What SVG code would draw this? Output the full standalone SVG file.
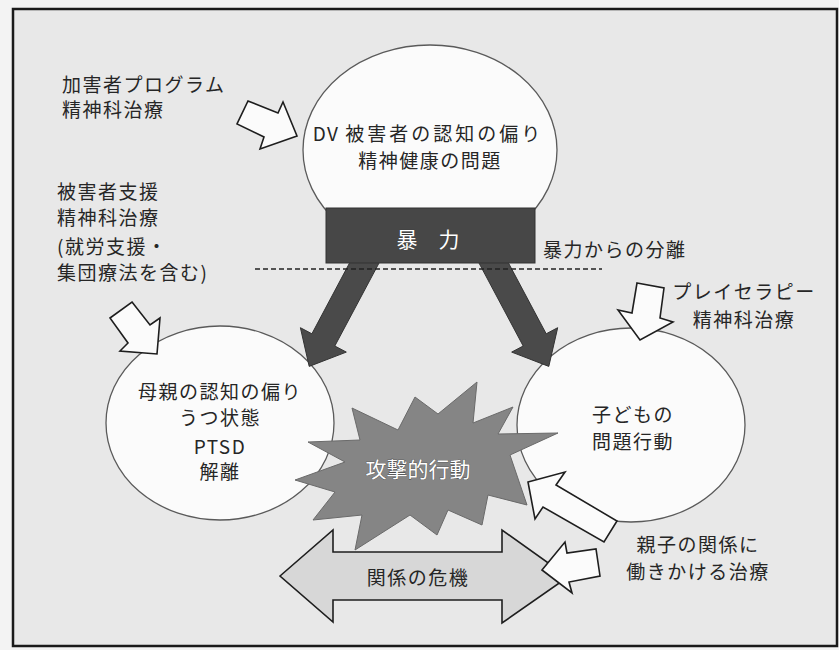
<svg xmlns="http://www.w3.org/2000/svg" width="839" height="650" viewBox="0 0 839 650">
<style>
.t{font-family:"Noto Sans CJK JP","Noto Sans",sans-serif;font-size:19px;fill:#262626;letter-spacing:1.5px}
.c{text-anchor:middle}
.w{fill:#ffffff;font-size:21px;stroke:#3a3a3a;stroke-width:0.6;paint-order:stroke;letter-spacing:0}
.ell{fill:#fbfbfb;stroke:#5a5a5a;stroke-width:1.3}
.wa{fill:#fbfbfb;stroke:#1e1e1e;stroke-width:1.6;stroke-linejoin:miter}
.da{fill:#4a4a4a;stroke:#333;stroke-width:1}
</style>
<rect x="0" y="0" width="839" height="650" fill="#f3f3f3"/>
<rect x="13" y="9" width="824" height="637" fill="#e8e8e8" stroke="#1a1a1a" stroke-width="2.5"/>

<g id="node-top">
<ellipse class="ell" cx="430" cy="150" rx="127" ry="105"/>
<text class="t c" x="428" y="141" font-size="18.5" letter-spacing="0"><tspan>DV </tspan><tspan letter-spacing="3">被害者の認知の偏り</tspan></text>
<text class="t c" x="430" y="168" font-size="18.5" letter-spacing="2.5">精神健康の問題</text>
</g>

<g id="node-mother">
<ellipse class="ell" cx="220" cy="423" rx="114" ry="97"/>
<text class="t c" x="220" y="399" letter-spacing="1.8">母親の認知の偏り</text>
<text class="t c" x="220" y="425" letter-spacing="2">うつ状態</text>
<text class="t c" x="220" y="454">PTSD</text>
<text class="t c" x="220" y="479" letter-spacing="2">解離</text>
</g>

<g id="node-child">
<ellipse class="ell" cx="631" cy="425" rx="114" ry="97"/>
<text class="t c" x="633" y="422" letter-spacing="2">子どもの</text>
<text class="t c" x="633" y="449" letter-spacing="2">問題行動</text>
</g>

<g id="connectors">
<polygon class="da" points="356.5,249.9 379.5,262.1 334.8,346 346.3,352.1 309.2,366.4 300.4,327.7 311.9,333.8"/>
<polygon class="da" points="478.5,262.1 501.5,249.9 546.2,333.8 557.7,327.7 548.8,366.4 511.7,352.1 523.2,346"/>
<line x1="255" y1="269" x2="602" y2="269" stroke="#222" stroke-width="1.4" stroke-dasharray="5,3"/>
</g>

<g id="node-violence">
<rect x="326" y="208" width="209" height="55" fill="#474747" stroke="#333" stroke-width="1"/>
<text class="t c w" x="428" y="247">暴　力</text>
</g>

<g id="node-aggression">
<polygon points="415,397 438,414 477,382 473,423 513,407 498,434 558,433 510,455 527,505 488,495 482,525 448,510 437,535 410,515 355,550 362,515 313,520 335,492 295,480 345,462 308,442 360,440 352,408 398,430" fill="#858585" stroke="#6a6a6a" stroke-width="1"/>
<text class="t c w" x="418" y="477">攻撃的行動</text>
</g>

<g id="node-crisis">
<polygon points="280,576 333,530 333,552 502,552 502,530 568,577 502,623 502,600 333,600 333,622" fill="#d7d7d7" stroke="#1e1e1e" stroke-width="1.6"/>
<text class="t c" x="418" y="585" font-size="21">関係の危機</text>
</g>

<g id="arrow-perpetrator">
<polygon class="wa" points="248,101 278,113 283,102 297,136 260,149 264,137 237,124"/>
</g>
<g id="arrow-victim">
<polygon class="wa" points="132,302 150,325 160,318 157,354 120,351 128,343 110,318"/>
</g>
<g id="arrow-play">
<polygon class="wa" points="637,283 664,288 660,318 673,322 640,340 618,310 632,313"/>
</g>
<g id="arrow-parent-child-1">
<polygon class="wa" points="528,482 565,472 556,485 617,521 604,542 543,507 535,519"/>
</g>
<g id="arrow-parent-child-2">
<polygon class="wa" points="542,570 565,542 567,553 596,549 600,576 569,582 572,593"/>
</g>

<g id="label-perpetrator">
<text class="t" x="62" y="92" font-size="19" letter-spacing="1.3">加害者プログラム</text>
<text class="t" x="62" y="117" font-size="19" letter-spacing="2">精神科治療</text>
</g>
<g id="label-victim">
<text class="t" x="57" y="199" font-size="20" letter-spacing="1.8">被害者支援</text>
<text class="t" x="57" y="225" font-size="20" letter-spacing="1.8">精神科治療</text>
<text class="t" x="57" y="254" font-size="20" letter-spacing="1.8">(就労支援・</text>
<text class="t" x="57" y="280" font-size="20" letter-spacing="1.8">集団療法を含む)</text>
</g>
<g id="label-separation">
<text class="t" x="543" y="257" font-size="20" letter-spacing="3.4">暴力からの分離</text>
</g>
<g id="label-play">
<text class="t c" x="744" y="299" letter-spacing="0.5">プレイセラピー</text>
<text class="t c" x="744" y="327" letter-spacing="2.5">精神科治療</text>
</g>
<g id="label-parent-child">
<text class="t c" x="698" y="552" font-size="20" letter-spacing="2.2">親子の関係に</text>
<text class="t c" x="698" y="579" font-size="20" letter-spacing="1.8">働きかける治療</text>
</g>
</svg>
